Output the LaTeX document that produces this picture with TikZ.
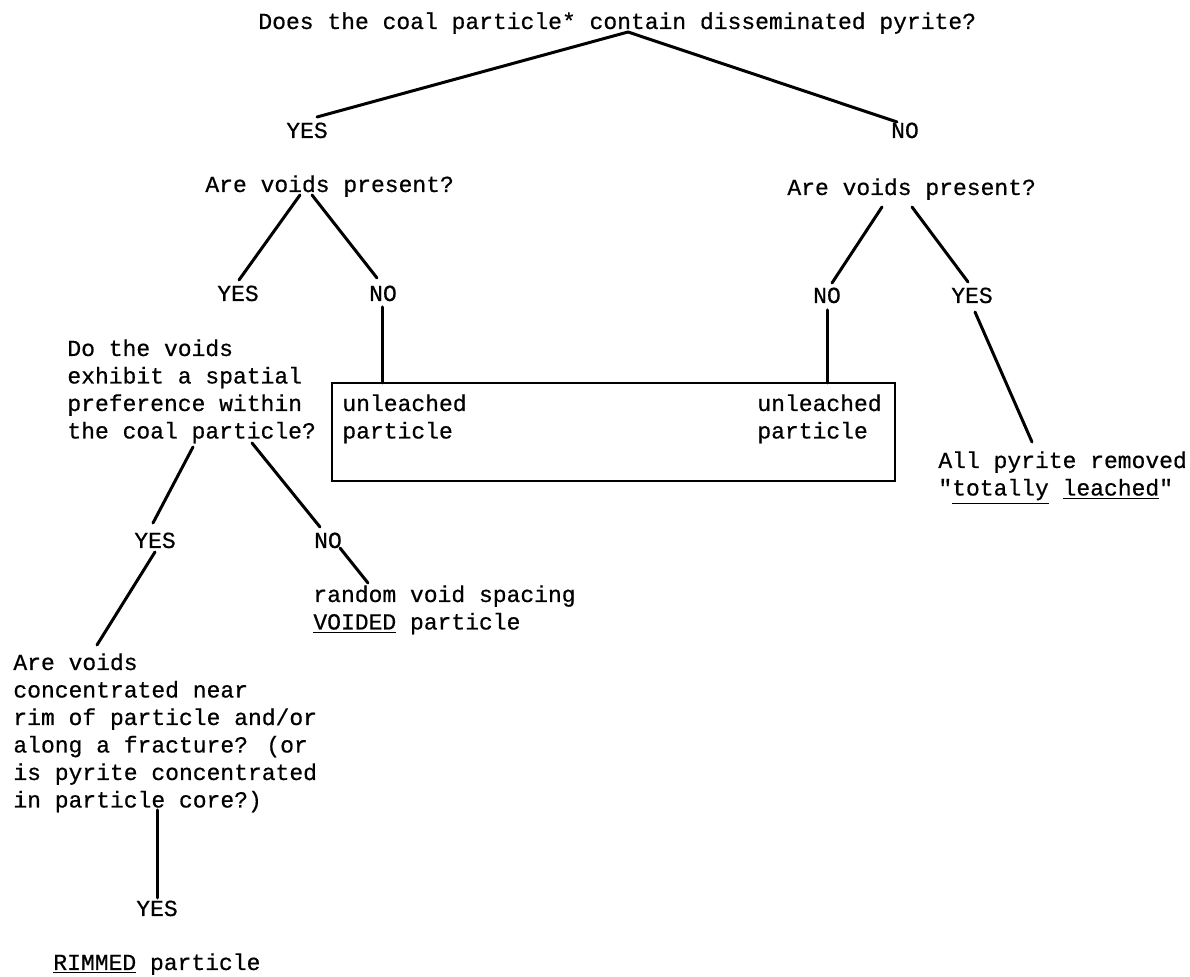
\documentclass[tikz,border=0pt]{standalone}
\usepackage{fontspec}
\newfontfamily\tw[FakeBold=0.6]{Liberation Mono}
\tikzset{
  txt/.style={inner sep=0pt, anchor=base west, align=left, font=\tw\fontsize{11.5}{13.75}\selectfont},
  lbl/.style={inner sep=0pt, anchor=base, font=\tw\fontsize{11.5}{13.75}\selectfont},
  conn/.style={line width=1.5pt, line cap=round},
}
\begin{document}
\begin{tikzpicture}[x=0.5pt, y=-0.5pt]
\useasboundingbox (0,0) rectangle (1190,977);
% texts (multi-line nodes are placed by the baseline of their last line)
\node[txt] (title) at (258,29) {Does the coal particle* contain disseminated pyrite?};
\node[lbl] (yes1) at (307,138) {YES};
\node[lbl] (no1) at (905,138) {NO};
\node[txt] (qL) at (205,192) {Are voids present?};
\node[txt] (qR) at (787,195) {Are voids present?};
\node[lbl] (yes2) at (238,301) {YES};
\node[lbl] (no2) at (383,301) {NO};
\node[lbl] (no5) at (827,303) {NO};
\node[lbl] (yes5) at (972,303) {YES};
\node[txt] (q3) at (67,438.5) {Do the voids\\exhibit a spatial\\preference within\\the coal particle?};
\node[txt] (unL) at (342,438.5) {unleached\\particle};
\node[txt] (unR) at (757,438.5) {unleached\\particle};
\node[txt] (allp) at (938,495.5) {All pyrite removed\\"\underline{totally} \underline{leached}"};
\node[lbl] (yes3) at (155,548) {YES};
\node[lbl] (no3) at (328,548) {NO};
\node[txt] (rand) at (313,629.5) {random void spacing\\\underline{VOIDED} particle};
\node[txt] (q4) at (13,807.5) {Are voids\\concentrated near\\rim of particle and/or\\along a fracture? (or\\is pyrite concentrated\\in particle core?)};
\node[lbl] (yes4) at (157,916) {YES};
\node[txt] (rim) at (53,970) {\underline{RIMMED} particle};
% box
\draw[line width=1.4pt] (332,383) rectangle (895,481);
\coordinate (boxL) at (382,383);
\coordinate (boxR) at (827,383);
% connector end points
\coordinate (apex) at (628,32);
\coordinate (y1t) at (317,117);
\coordinate (n1t) at (897,122);
\coordinate (qLa) at (300,195);
\coordinate (qLb) at (312,195);
\coordinate (y2t) at (239,280);
\coordinate (n2t) at (377,278);
\coordinate (n2b) at (382,307);
\coordinate (n5b) at (827,310);
\coordinate (qRa) at (882,207);
\coordinate (qRb) at (912,207);
\coordinate (n5t) at (832,283);
\coordinate (y5t) at (968,282);
\coordinate (y5b) at (975,312);
\coordinate (allt) at (1032,442);
\coordinate (q3a) at (193,447);
\coordinate (q3b) at (252,443);
\coordinate (y3t) at (153,523);
\coordinate (n3t) at (320,527);
\coordinate (y3b) at (155,552);
\coordinate (q4t) at (97,645);
\coordinate (n3b) at (340,548);
\coordinate (randt) at (368,583);
\coordinate (q4b) at (157,810);
\coordinate (y4t) at (157,898);
% connectors
\draw[conn] (apex) -- (y1t);
\draw[conn] (apex) -- (n1t);
\draw[conn] (qLa) -- (y2t);
\draw[conn] (qLb) -- (n2t);
\draw[conn] (n2b) -- (boxL);
\draw[conn] (qRa) -- (n5t);
\draw[conn] (qRb) -- (y5t);
\draw[conn] (n5b) -- (boxR);
\draw[conn] (y5b) -- (allt);
\draw[conn] (q3a) -- (y3t);
\draw[conn] (q3b) -- (n3t);
\draw[conn] (y3b) -- (q4t);
\draw[conn] (n3b) -- (randt);
\draw[conn] (q4b) -- (y4t);
\end{tikzpicture}
\end{document}
